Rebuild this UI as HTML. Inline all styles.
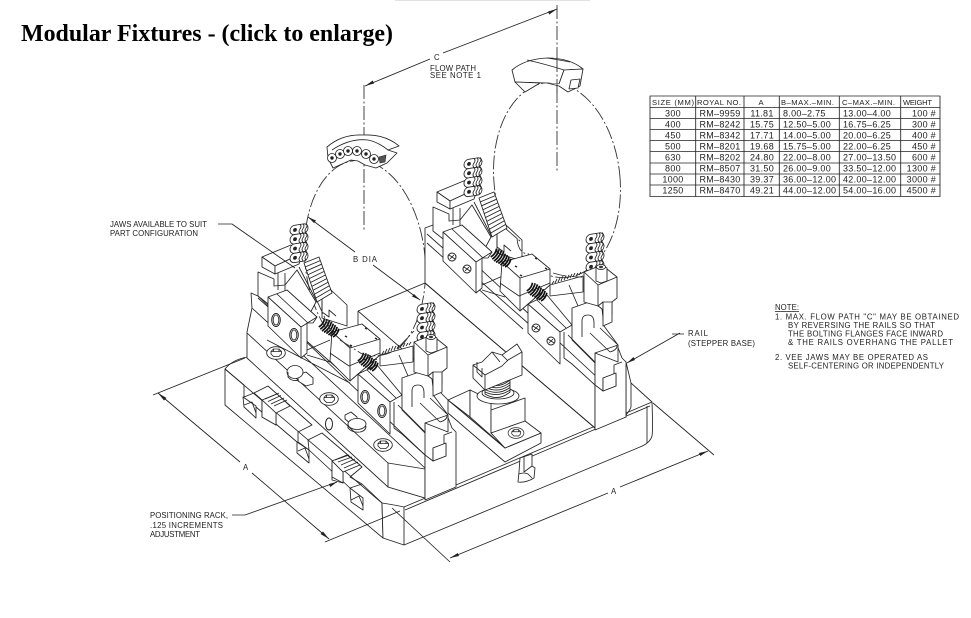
<!DOCTYPE html>
<html><head><meta charset="utf-8"><title>Modular Fixtures</title>
<style>
html,body{margin:0;padding:0;background:#fff;width:971px;height:618px;overflow:hidden}
svg{display:block}
.d{fill:#fff;stroke:#222;stroke-width:.85;stroke-linejoin:round}
.l{fill:none;stroke:#222;stroke-width:.85;stroke-linejoin:round}
.dash{fill:none;stroke:#333;stroke-width:.9;stroke-dasharray:14 2.5 2 2.5}
text{font-family:"Liberation Sans",sans-serif;font-size:7.8px;fill:#222}
.t text{font-size:9px;letter-spacing:.3px}
.t .h{font-size:7.6px;letter-spacing:0}
</style></head><body>
<svg width="971" height="618" viewBox="0 0 971 618" xmlns="http://www.w3.org/2000/svg">
<defs>
<g id="stack" transform="skewY(-9)">
 <rect class="d" x="0" y="0" width="18" height="9.4" rx="4.6"/><rect class="d" x="0" y="9.3" width="18" height="9.4" rx="4.6"/><rect class="d" x="0" y="18.6" width="18" height="9.4" rx="4.6"/><rect class="d" x="0" y="27.9" width="18" height="9.4" rx="4.6"/>
 <path class="l" d="M10,0q2,2.3 0,4.6t0,4.6t0,4.6t0,4.6t0,4.6t0,4.6t0,4.6t0,4.6M13,0q2,2.3 0,4.6t0,4.6t0,4.6t0,4.6t0,4.6t0,4.6t0,4.6t0,4.6M16,0q2,2.3 0,4.6t0,4.6t0,4.6t0,4.6t0,4.6t0,4.6t0,4.6t0,4.6"/>
 <circle cx="5" cy="4.7" r="1.9" fill="#222"/><circle cx="5" cy="14" r="1.9" fill="#222"/><circle cx="5" cy="23.3" r="1.9" fill="#222"/><circle cx="5" cy="32.6" r="1.9" fill="#222"/>
</g>
<g id="screw">
 <path d="M-9,-5q2.4,5 0,10M-6.5,-6q2.4,6 0,12M-4,-6.5q2.4,6.5 0,13M-1.5,-6.5q2.4,6.5 0,13M1,-6q2.4,6 0,12M3.5,-6q2.4,6 0,12M6,-5.5q2.4,5.5 0,11M8.5,-5q2.4,5 0,10" fill="none" stroke="#111" stroke-width="1.7"/>
</g>
<g id="hex"><ellipse class="d" cx="0" cy="0" rx="9.3" ry="6.3"/><path class="d" d="M-5,-1.500L-2.500,-4H3L5.500,-1.500V1L3,3.500H-2.500L-5,1Z"/><path class="l" d="M-5,-1.500H5.500M-2.500,-4V-1.500M3,-4V-1.500"/></g>
<g id="uj">
 <path class="d" d="M322,296L331,290L347,305L347,326L322,318Z"/>
 <path class="l" d="M322,301L322,312L329,317L329,310L336,316"/>
 <path class="d" d="M258,272L274,279L274,286L285,285L297,270L316,302L301,330L258,296Z"/>
 <path class="l" d="M285,273V291M278,273V290"/>
 <path class="d" d="M304,263L319,257L332,293L317,302Z"/>
 <path class="l" d="M305.3,266.9L320.3,260.6M306.6,270.8L321.6,264.2M307.9,274.7L322.9,267.8M309.2,278.6L324.2,271.4M310.5,282.5L325.5,275M311.8,286.4L326.8,278.6M313.1,290.3L328.1,282.2M314.4,294.2L329.4,285.8M315.7,298.1L330.7,289.4M299,267L317,302"/>
 <path class="d" d="M262,257L291,245L303,253L275,266Z"/>
 <path class="d" d="M262,257V267L275,274V266Z"/>
 <path class="d" d="M275,266V274L299,264L303,253Z"/>
 <path class="l" d="M307,350L330,340M307,355L330,362"/>
 <path class="d" d="M268,297L287,290L317,317L313,323L307,323V353L301,358L268,326Z"/>
 <path class="l" d="M268,297L301,327V358M301,327L317,317M277,294L308,323"/>
</g>
<g id="cj">
 <path class="d" d="M332,332L362,324L380,339V355L350,381L330,361Z"/>
 <path class="l" d="M332,332L350,348L380,339M350,348V381M330,353L349,366L380,353"/>
 <path d="M345,336l2,1M365,328l2,1M375,338l2,1M350,345l2,1" stroke="#222" stroke-width="1.5"/>
</g>
<g id="lj">
 <path class="d" d="M380,355L413,346V362L380,366Z"/>
 <path class="l" d="M382,354l2,-3M385,353l2,-4M388,352l2,-4M391,351l2,-5M394,350l2,-4M397,349l2,-4M400,348l2,-4M403,347l2,-4M406,346l2,-3M409,345l2,-3"/>
 <path class="l" d="M399,355L408,376"/>
 <path class="d" d="M358,374L377,365L402,395L390,402V434L358,403Z"/>
 <path class="l" d="M358,374L390,402M367,370L396,398"/>
 <path class="d" d="M425,423V500L456,487V432L452,428L447,415Z"/>
 <path class="d" d="M402,378L422,371L432,379L434,396L448,415V432L425,423V433L402,410Z"/>
 <path class="l" d="M412,407V391Q412,385 418,385Q424,385 424,393V398M420,403L440,422M430,398L448,415M440,422Q447,420 447,416M425,423L448,415"/>
 <path class="l" d="M394,402V428L402,434L425,455M398,405L425,432M425,455L433,461L433,448L444,444L444,435L452,432M433,461L446,456L446,445"/>
 <path class="d" d="M433,448L446,443V456L433,461Z"/>
 <path class="d" d="M414,342L432,335L447,347V368L442,372V384L433,390V372L428,376L414,372Z"/>
 <path class="l" d="M414,342L428,355L447,347M428,355V376"/>
 <path class="d" d="M433,372H442V392L433,396Z"/>
 <path class="d" d="M426,338L431,335L437,338V351L431,353L426,351Z"/>
 <ellipse class="d" cx="431" cy="337" rx="4.6" ry="2.4"/><ellipse cx="431" cy="337" rx="2" ry="1.2" fill="#333"/>
</g>
</defs>

<rect width="971" height="618" fill="#fff"/>
<rect x="395" y="0" width="195" height="1" fill="#e2e2e2"/>

<text x="21" y="41" textLength="372" lengthAdjust="spacingAndGlyphs" style="font-family:'Liberation Serif',serif;font-weight:bold;font-size:24px;fill:#000">Modular Fixtures - (click to enlarge)</text>

<!-- centre lines & dim C -->
<path class="dash" d="M364,85V231M557,5V172"/>
<ellipse class="dash" cx="365" cy="260" rx="60" ry="100" transform="rotate(-6 365 260)"/>
<ellipse class="dash" cx="557" cy="180" rx="63" ry="98" transform="rotate(-6 557 180)"/>
<path class="l" d="M365,86L430,59M443,53L557,9"/>
<path d="M365,86l9,-2.5l-1.2,-3ZM557,9l-9,2.5l1.2,3Z" fill="#222"/>
<text x="434" y="60">C</text>
<text x="430" y="71" textLength="46">FLOW PATH</text>
<text x="430" y="78" textLength="51">SEE NOTE 1</text>

<!-- top fixtures -->
<path class="d" d="M327,147Q342,134 363,135Q385,134 399,146L388,150L397,153L387,163L376,168L365,165L358,161L351,160L333,168L328,158Z"/>
<path class="l" d="M332,150Q350,138 368,140Q378,142 388,150"/>
<g fill="#fff" stroke="#222" stroke-width=".8">
<circle cx="332" cy="158" r="4.5"/><circle cx="340" cy="154" r="4.5"/><circle cx="348" cy="151" r="4.5"/><circle cx="357" cy="151" r="4.5"/><circle cx="366" cy="154" r="4.5"/><circle cx="374" cy="159" r="4.5"/>
</g>
<g fill="#222"><circle cx="332" cy="158" r="1.7"/><circle cx="340" cy="154" r="1.7"/><circle cx="348" cy="151" r="1.7"/><circle cx="357" cy="151" r="1.7"/><circle cx="366" cy="154" r="1.7"/><circle cx="374" cy="159" r="1.7"/></g>
<path d="M379,157L386,155L385,162L380,163Z" fill="#555" stroke="#222" stroke-width=".6"/>
<path class="d" d="M512,70Q525,59 547,58Q570,58 583,69L564,70L559,84L548,83L515,82Z"/>
<path class="d" d="M515,82L540,83L525,92Z"/>
<path class="d" d="M547,83L559,86L568,92L580,86L583,69L564,70L559,84"/>
<path class="d" d="M571,80L580,79L578,88L569,89Z"/>
<path class="l" d="M527,60Q545,64 564,70M547,58Q560,60 570,62"/>
<path class="dash" d="M557,58V95"/>

<!-- pallet -->
<path class="d" d="M225,369L225,405L383,538L382,503Z"/>
<path class="d" d="M382,503Q395,505 404,507L652,402Q653,430 652,436Q650,443 640,447L404,545L383,538Z"/>
<path class="l" d="M404,507V545M405,510L650,406M647,406V443M225,369Q232,360 247,357M631,383L652,402"/>
<path class="l" d="M225,369L244,385V397L254,393L268,386L312,425L298,432V442L309,450L308,440L322,433L362,467L350,477L362,484L382,503"/>
<path class="l" d="M254,393L262,400V417L276,425V413M332,465V480L343,483V472"/>
<path class="l" d="M256,407L297,442M309,450L350,488"/>
<path class="d" d="M243,397L244,407L256,418V406Z"/>
<path class="l" d="M244,405L252,402L256,413M344,0"/>
<path class="d" d="M297,442V453L309,463V450Z"/>
<path class="l" d="M298,451L305,448L309,459"/>
<path class="d" d="M350,488L351,502L363,510V498Z"/>
<path class="l" d="M351,500L359,496L363,506"/>
<path class="l" d="M350,488L362,484"/>
<path class="d" d="M262,400L277,394L290,406L276,413Z"/>
<path class="l" d="M265,399L279,393M268,401.500L281,395.500M271,404L284,398M274,406L287,400" stroke-width="1.4"/>
<path class="d" d="M332,461L347,455L360,465L343,472Z"/>
<path class="l" d="M335,460L349,455M338,462L352,457M341,465L355,459M344,468L358,462" stroke-width="1.4"/>
<path class="d" d="M332,461V477L343,483V472Z"/>
<path class="d" d="M262,400V417L276,425V413Z"/>

<!-- right rail -->
<path class="d" d="M425,228L433,225L600,380L626,362V417L595,428L425,283Z"/>
<path class="l" d="M427,234L530,325M427,243L523,329"/>
<path class="l" d="M631,383V407Q630,410 626,415M595,353V430M626,362L631,383"/>
<path class="l" d="M425,283L595,428"/>
<path class="l" d="M358,311L425,283" stroke-width="1.8"/>
<path class="l" d="M358,311V327L380,345M358,311L415,360"/>

<!-- right fixture -->
<use href="#uj" x="175" y="-65"/>
<use href="#stack" transform="translate(464,160)"/>
<g transform="translate(170,-70)"><use href="#cj"/></g>
<use href="#screw" transform="translate(501,258) rotate(35)"/>
<use href="#stack" transform="translate(586,235)"/>
<use href="#lj" x="170" y="-70"/>
<use href="#screw" transform="translate(537,292) rotate(35)"/>
<g fill="#fff" stroke="#222"><circle cx="452" cy="257" r="4"/><circle cx="467" cy="269" r="4"/><circle cx="536" cy="328" r="4"/><circle cx="551" cy="341" r="4"/></g>
<path class="l" d="M449,255l6,4M450,259l4,-4M464,267l6,4M465,271l4,-4M533,326l6,4M534,330l4,-4M548,339l6,4M549,343l4,-4"/>
<path class="dash" d="M506,229L520,241M553,273Q565,277 582,277M517,238Q518,254 529,254" stroke-dasharray="5 2 2 2"/>

<!-- vee block centre -->
<path class="d" d="M441,393L448,400L505,448L541,433V443L505,462L448,413V400Z"/>
<path class="d" d="M448,400L470,390V417Z"/>
<path class="d" d="M470,390L491,400V433L505,448L470,417Z"/>
<path class="d" d="M491,410L525,398V423L491,433Z"/>
<path class="d" d="M491,433L505,448L541,433L525,421Z"/>
<ellipse class="d" cx="498" cy="396" rx="21" ry="8"/>
<ellipse class="l" cx="498" cy="393" rx="16" ry="6"/>
<path class="d" d="M485,378V394Q498,402 510,392V378Z"/>
<path class="l" d="M485,382Q498,390 510,380M485,384.500Q498,392 510,382.500M485,387Q498,394 510,385M485,389.500Q498,396 510,387.500M485,392Q498,398 510,390"/>
<path class="d" d="M473,365L482,362L492,352L502,355L517,344L522,352V375L485,390L473,378Z"/>
<path class="l" d="M473,365L485,375L502,366L508,360L522,352M485,375V390M477,362V372L482,377V368M492,352L500,362M502,355L508,361"/>
<use href="#hex" transform="translate(516,433) scale(.85)"/>
<path class="d" d="M520,458L519,472L518,482Q526,483 534,478L535,468L532,466V454Z"/>
<path class="l" d="M524,456V472L532,466M519,474Q524,472 528,474L532,478"/>

<!-- left rail -->
<path class="d" d="M247,358L247,332L252,308L251,293L258,296L425,455V498L388,487Z"/>
<path class="l" d="M252,308L425,468M247,333L388,463M258,298L345,375M267,340L350,383"/>
<path class="d" d="M388,463L425,469V498L388,487Z"/>

<!-- left fixture -->
<use href="#uj"/>
<use href="#stack" transform="translate(290,226)"/>
<use href="#cj"/>
<use href="#screw" transform="translate(329,328) rotate(35)"/>
<use href="#stack" transform="translate(417,305)"/>
<use href="#lj"/>
<use href="#screw" transform="translate(368,362) rotate(35)"/>
<g fill="#fff" stroke="#222"><ellipse cx="276" cy="320" rx="4.3" ry="6.500"/><ellipse cx="294" cy="335" rx="4.3" ry="6.500"/><ellipse cx="365" cy="397" rx="4.3" ry="6.500"/><ellipse cx="382" cy="411" rx="4.3" ry="6.500"/><ellipse cx="329" cy="424" rx="3.5" ry="6"/></g>
<ellipse class="l" cx="276" cy="320" rx="2.8" ry="5"/><ellipse class="l" cx="294" cy="335" rx="2.8" ry="5"/><ellipse class="l" cx="365" cy="397" rx="2.8" ry="5"/><ellipse class="l" cx="382" cy="411" rx="2.8" ry="5"/>
<use href="#hex" transform="translate(276,353)"/>
<use href="#hex" transform="translate(329,399)"/>
<use href="#hex" transform="translate(383,445)"/>
<path class="d" d="M298,375L306,372L313,378V384L306,386L298,381Z"/>
<ellipse class="d" cx="295" cy="372" rx="8" ry="6.500"/>
<path class="l" d="M288,372V377Q292,382 299,380"/>
<path class="d" d="M345,415L351,412L357,417V422L350,423L345,419Z"/>
<ellipse class="d" cx="357" cy="424" rx="9" ry="5.500"/>
<path class="l" d="M348,424V428Q352,433 360,432Q366,431 366,426"/>
<path class="dash" d="M317,301L331,331M340,340L362,354Q380,359 396,350L414,331" stroke-dasharray="5 2 2 2"/>

<!-- dims -->
<path class="l" d="M153,395L245,358M158,393L240,462M252,473L329,539M325,542L400,511M392,508L450,562"/>
<path d="M158,393l6,7.500l2.500,-2.500ZM329,539l-6,-7.500l-2.500,2.500Z" fill="#222"/>
<text x="243" y="470">A</text>
<path class="l" d="M450,558L608,493M620,487L708,451M653,403L714,455"/>
<path d="M450,558l9,-2l-1.200,-3ZM708,451l-9,2l1.200,3Z" fill="#222"/>
<text x="611" y="494">A</text>

<!-- leaders -->
<path class="l" d="M218,224H232L295,268"/>
<text x="110" y="227" textLength="97">JAWS AVAILABLE TO SUIT</text>
<text x="110" y="236" textLength="88">PART CONFIGURATION</text>
<path class="l" d="M355,252L308,217M373,265L420,300"/>
<path d="M308,217l6,6l2,-2.500ZM420,300l-6,-6l-2,2.500Z" fill="#222"/>
<text x="353" y="262" textLength="24">B DIA</text>
<path class="l" d="M672,334H684M680,333L627,363M232,515H245L337,482"/>
<path d="M627,363l8,-3l-1.500,-3ZM337,482l-8,2l1.200,3Z" fill="#222"/>
<text x="688" y="336" textLength="20">RAIL</text>
<text x="688" y="346" textLength="67">(STEPPER BASE)</text>
<text x="150" y="518" textLength="78">POSITIONING RACK,</text>
<text x="150" y="528" textLength="73">.125 INCREMENTS</text>
<text x="150" y="537" textLength="50">ADJUSTMENT</text>

<!-- notes -->
<text x="775" y="310" text-decoration="underline" textLength="24">NOTE:</text>
<text x="775" y="319.500" textLength="184">1. MAX. FLOW PATH "C" MAY BE OBTAINED</text>
<text x="788" y="328" textLength="147">BY REVERSING THE RAILS SO THAT</text>
<text x="788" y="336.500" textLength="155">THE BOLTING FLANGES FACE INWARD</text>
<text x="788" y="345" textLength="165">&amp; THE RAILS OVERHANG THE PALLET</text>
<text x="775" y="360" textLength="153">2. VEE JAWS MAY BE OPERATED AS</text>
<text x="788" y="368.500" textLength="156">SELF-CENTERING OR INDEPENDENTLY</text>

<!-- table -->
<path class="l" d="M650,96H940V196.500H650ZM650,107.500H940M650,118.500H940M650,129.500H940M650,140.500H940M650,151.500H940M650,163H940M650,174H940M650,185H940M695.700,96V196.500M744,96V196.500M779.300,96V196.500M839.300,96V196.500M900.700,96V196.500" stroke-width="1"/>
<g class="t">
<text class="h" x="652" y="105" textLength="42">SIZE (MM)</text><text class="h" x="697" y="105" textLength="44">ROYAL NO.</text><text class="h" x="761" y="105" text-anchor="middle">A</text><text class="h" x="781" y="105" textLength="53">B–MAX.–MIN.</text><text class="h" x="842" y="105" textLength="53">C–MAX.–MIN.</text><text class="h" x="903" y="105" textLength="29">WEIGHT</text>
<text x="673" y="116.300" text-anchor="middle">300</text><text x="720" y="116.300" text-anchor="middle">RM–9959</text><text x="762" y="116.300" text-anchor="middle">11.81</text><text x="783" y="116.300">8.00–2.75</text><text x="843" y="116.300">13.00–4.00</text><text x="936" y="116.300" text-anchor="end">100 #</text>
<text x="673" y="127.300" text-anchor="middle">400</text><text x="720" y="127.300" text-anchor="middle">RM–8242</text><text x="762" y="127.300" text-anchor="middle">15.75</text><text x="783" y="127.300">12.50–5.00</text><text x="843" y="127.300">16.75–6.25</text><text x="936" y="127.300" text-anchor="end">300 #</text>
<text x="673" y="138.300" text-anchor="middle">450</text><text x="720" y="138.300" text-anchor="middle">RM–8342</text><text x="762" y="138.300" text-anchor="middle">17.71</text><text x="783" y="138.300">14.00–5.00</text><text x="843" y="138.300">20.00–6.25</text><text x="936" y="138.300" text-anchor="end">400 #</text>
<text x="673" y="149.300" text-anchor="middle">500</text><text x="720" y="149.300" text-anchor="middle">RM–8201</text><text x="762" y="149.300" text-anchor="middle">19.68</text><text x="783" y="149.300">15.75–5.00</text><text x="843" y="149.300">22.00–6.25</text><text x="936" y="149.300" text-anchor="end">450 #</text>
<text x="673" y="160.300" text-anchor="middle">630</text><text x="720" y="160.300" text-anchor="middle">RM–8202</text><text x="762" y="160.300" text-anchor="middle">24.80</text><text x="783" y="160.300">22.00–8.00</text><text x="843" y="160.300">27.00–13.50</text><text x="936" y="160.300" text-anchor="end">600 #</text>
<text x="673" y="171.300" text-anchor="middle">800</text><text x="720" y="171.300" text-anchor="middle">RM–8507</text><text x="762" y="171.300" text-anchor="middle">31.50</text><text x="783" y="171.300">26.00–9.00</text><text x="843" y="171.300">33.50–12.00</text><text x="936" y="171.300" text-anchor="end">1300 #</text>
<text x="673" y="182.300" text-anchor="middle">1000</text><text x="720" y="182.300" text-anchor="middle">RM–8430</text><text x="762" y="182.300" text-anchor="middle">39.37</text><text x="783" y="182.300">36.00–12.00</text><text x="843" y="182.300">42.00–12.00</text><text x="936" y="182.300" text-anchor="end">3000 #</text>
<text x="673" y="193.300" text-anchor="middle">1250</text><text x="720" y="193.300" text-anchor="middle">RM–8470</text><text x="762" y="193.300" text-anchor="middle">49.21</text><text x="783" y="193.300">44.00–12.00</text><text x="843" y="193.300">54.00–16.00</text><text x="936" y="193.300" text-anchor="end">4500 #</text>
</g>
</svg>
</body></html>
